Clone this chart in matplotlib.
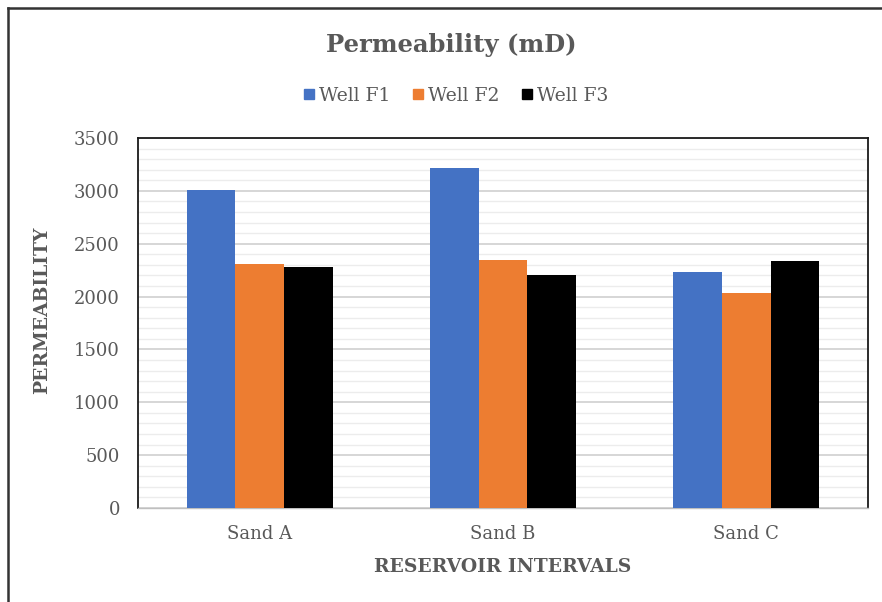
import matplotlib
matplotlib.use("Agg")
import matplotlib.pyplot as plt
import numpy as np
from matplotlib.lines import Line2D
from matplotlib.ticker import MultipleLocator

# Data
intervals = ["Sand A", "Sand B", "Sand C"]
wells = ["Well F1", "Well F2", "Well F3"]
well_f1 = [3010, 3220, 2230]
well_f2 = [2310, 2350, 2030]
well_f3 = [2280, 2200, 2340]
colors = ["#4472C4", "#ED7D31", "#000000"]
y_ticks = [0, 500, 1000, 1500, 2000, 2500, 3000, 3500]

plt.rcParams["font.family"] = ["DejaVu Serif"]
text_gray = "#595959"

fig = plt.figure(figsize=(8.82, 6.02), dpi=100)
ax = fig.add_axes([138 / 882, 1 - 508 / 602, 730 / 882, 370 / 602])

x = np.arange(len(intervals))
width = 0.2
series = [well_f1, well_f2, well_f3]
for i, (vals, c, name) in enumerate(zip(series, colors, wells)):
    ax.bar(x + (i - 1) * width, vals, width, color=c, label=name, zorder=3)

ax.set_xlim(-0.5, len(intervals) - 0.5)
ax.set_ylim(0, 3500)
ax.set_yticks(y_ticks)
ax.yaxis.set_minor_locator(MultipleLocator(100))
ax.grid(axis="y", which="major", color="#d0d0d0", linewidth=1.2, zorder=0)
ax.grid(axis="y", which="minor", color="#ececec", linewidth=1.0, zorder=0)
ax.set_xticks(x)
ax.set_xticklabels(intervals)
ax.tick_params(axis="both", which="both", length=0, labelsize=13,
               labelcolor=text_gray)
ax.tick_params(axis="y", pad=13)
ax.tick_params(axis="x", pad=12)

for side in ["left", "top", "right"]:
    ax.spines[side].set_color("#1a1a1a")
    ax.spines[side].set_linewidth(1.3)
ax.spines["bottom"].set_color("#bfbfbf")
ax.spines["bottom"].set_linewidth(1.0)

ax.set_ylabel("PERMEABILITY", fontsize=13.5, fontweight="bold",
              color=text_gray)
ax.yaxis.set_label_coords(-0.119, 0.535)
ax.set_xlabel("RESERVOIR INTERVALS", fontsize=13.5, fontweight="bold",
              color=text_gray)
ax.xaxis.set_label_coords(0.5, -0.135)

fig.text(451 / 882, 1 - 45 / 602, "Permeability (mD)", ha="center",
         va="center", fontsize=17.5, fontweight="bold", color=text_gray)

handles = [Line2D([0], [0], marker="s", linestyle="none", markersize=6.5,
                  markerfacecolor=c, markeredgecolor=c) for c in colors]
fig.legend(handles, wells, loc="center", bbox_to_anchor=(455 / 882, 1 - 96 / 602),
           ncol=3, frameon=False, fontsize=13.5, labelcolor=text_gray,
           handletextpad=0.1, columnspacing=1.1, handlelength=0.8)

# Outer chart frame
fig.add_artist(Line2D([8 / 882, 1.0], [1 - 8 / 602, 1 - 8 / 602],
                      transform=fig.transFigure, color="#333333", linewidth=1.8))
fig.add_artist(Line2D([8 / 882, 8 / 882], [0.0, 1 - 8 / 602],
                      transform=fig.transFigure, color="#333333", linewidth=1.8))

fig.savefig("out.png", dpi=100)
